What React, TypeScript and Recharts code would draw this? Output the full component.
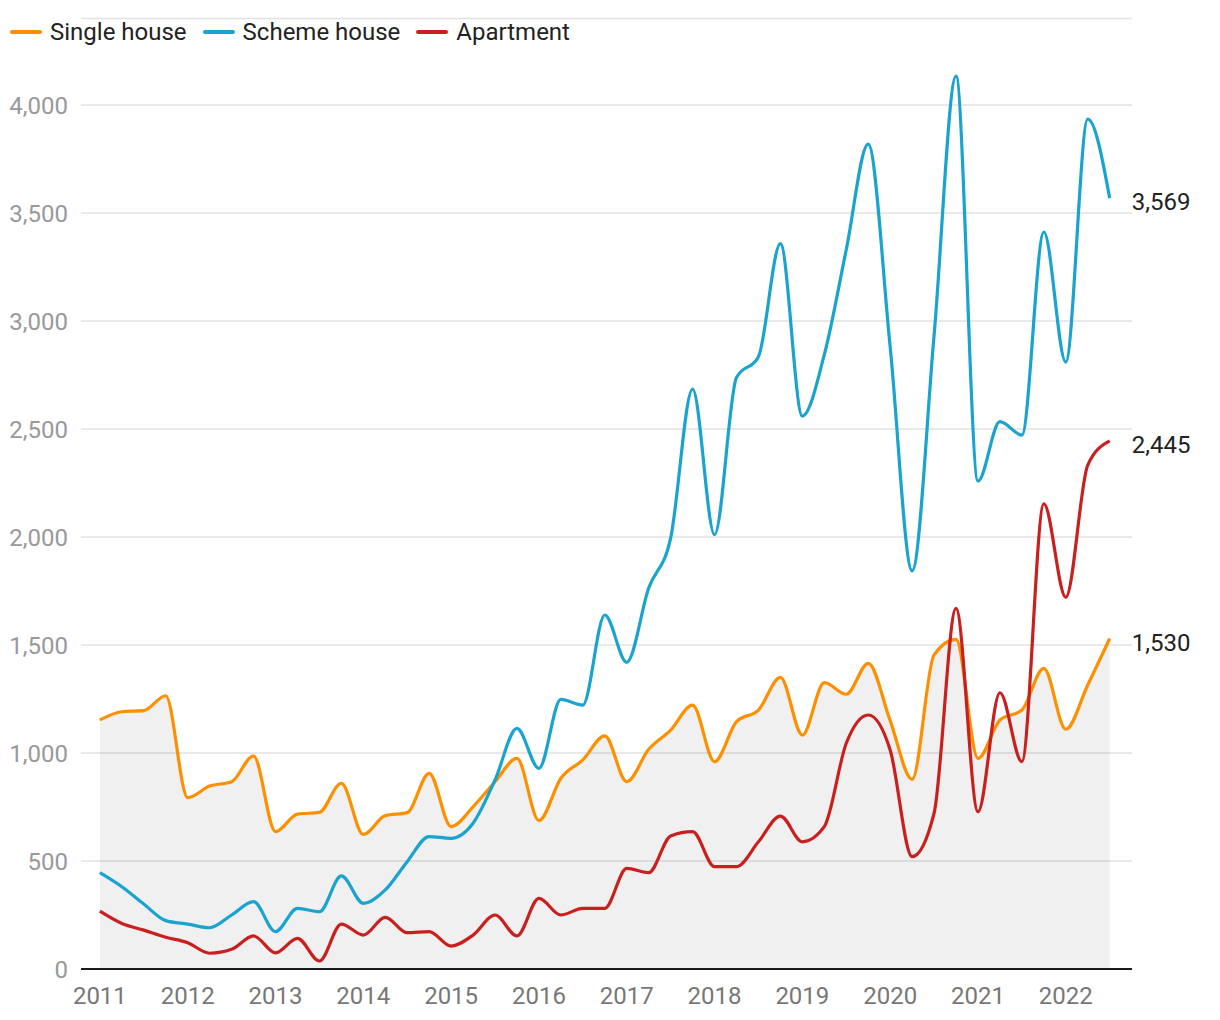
import React from 'react';
import { ComposedChart, Line, Area, XAxis, YAxis, CartesianGrid } from 'recharts';

// quarterly data, 2011 Q1 .. 2022 Q3
const years = [2011, 2012, 2013, 2014, 2015, 2016, 2017, 2018, 2019, 2020, 2021, 2022];
const quarterOffsets = [0, 0.25, 0.5, 0.75];

const singleHouse = [
  1153, 1191, 1196, 1265, 793, 847, 867, 986, 636, 717, 725, 860,
  623, 710, 724, 906, 659, 751, 867, 975, 687, 883, 968, 1079,
  867, 1017, 1106, 1222, 960, 1145, 1199, 1350, 1083, 1326, 1272, 1415,
  1150, 878, 1454, 1526, 975, 1153, 1199, 1392, 1110, 1315, 1530,
];
const schemeHouse = [
  446, 381, 301, 224, 208, 191, 250, 312, 173, 281, 265, 431,
  304, 366, 497, 613, 605, 675, 875, 1114, 929, 1248, 1222, 1639,
  1420, 1764, 1995, 2685, 2011, 2738, 2835, 3358, 2560, 2844, 3330, 3819,
  2880, 1843, 2933, 4134, 2259, 2534, 2472, 3412, 2810, 3935, 3569,
];
const apartment = [
  268, 211, 180, 147, 122, 73, 91, 153, 75, 142, 37, 208,
  157, 239, 168, 173, 106, 157, 250, 153, 327, 250, 281, 281,
  466, 446, 616, 636, 474, 474, 589, 708, 589, 659, 1045, 1176,
  1014, 520, 721, 1670, 728, 1279, 960, 2153, 1721, 2333, 2445,
];
const yTicks = [0, 500, 1000, 1500, 2000, 2500, 3000, 3500, 4000];

const ORANGE = '#fd9000';
const BLUE = '#1aa3cf';
const RED = '#c8201f';

const quarters = years.flatMap((y) => quarterOffsets.map((q) => y + q)).slice(0, singleHouse.length);

const data = quarters.map((t, i) => ({
  t,
  single: singleHouse[i],
  scheme: schemeHouse[i],
  apartment: apartment[i],
}));

const lastIndex = data.length - 1;

const endLabel = (props: any) => {
  const { x, y, index, value } = props;
  if (index !== lastIndex) return <g />;
  return (
    <text x={x + 22} y={y + 4} dominantBaseline="central" fontSize={24} fill="#222" fontFamily="Roboto">
      {Number(value).toLocaleString('en-US')}
    </text>
  );
};

const legendItems = [
  { name: 'Single house', color: ORANGE },
  { name: 'Scheme house', color: BLUE },
  { name: 'Apartment', color: RED },
];

export default function App() {
  return (
    <div style={{ position: 'absolute', left: 0, top: 0, width: 1220, height: 1020, background: '#fff', fontFamily: 'Roboto' }}>
      <ComposedChart width={1220} height={1020} data={data} margin={{ top: 18.6, right: 88, bottom: 0, left: 0 }}>
        <Area
          type="monotone"
          dataKey="single"
          stroke="none"
          fill="#000"
          fillOpacity={0.06}
          isAnimationActive={false}
        />
        <CartesianGrid vertical={false} stroke="#e2e2e2" strokeWidth={1.5} />
        <XAxis
          dataKey="t"
          type="number"
          domain={[2010.785, 2022.754]}
          ticks={years}
          height={51}
          tickSize={0}
          tickMargin={18}
          axisLine={{ stroke: '#1a1a1a', strokeWidth: 2 }}
          tick={{ fill: '#777', fontSize: 24, fontFamily: 'Roboto' }}
          allowDecimals
        />
        <YAxis
          domain={[0, 4400]}
          ticks={yTicks}
          width={81}
          tickSize={0}
          tickMargin={13}
          axisLine={false}
          tick={{ fill: '#999', fontSize: 24, fontFamily: 'Roboto' }}
          tickFormatter={(v) => Number(v).toLocaleString('en-US')}
        />
        <Line type="monotone" dataKey="single" stroke={ORANGE} strokeWidth={3.2} dot={false} isAnimationActive={false} label={endLabel} />
        <Line type="monotone" dataKey="scheme" stroke={BLUE} strokeWidth={3.2} dot={false} isAnimationActive={false} label={endLabel} />
        <Line type="monotone" dataKey="apartment" stroke={RED} strokeWidth={3.2} dot={false} isAnimationActive={false} label={endLabel} />
      </ComposedChart>
      <div style={{ position: 'absolute', left: 10, top: 18, display: 'flex', alignItems: 'center', fontSize: 24, color: '#222' }}>
        {legendItems.map((item) => (
          <div key={item.name} style={{ display: 'flex', alignItems: 'center', marginRight: 16 }}>
            <div style={{ width: 32, height: 4, borderRadius: 2, background: item.color, marginRight: 8 }} />
            <span>{item.name}</span>
          </div>
        ))}
      </div>
    </div>
  );
}
